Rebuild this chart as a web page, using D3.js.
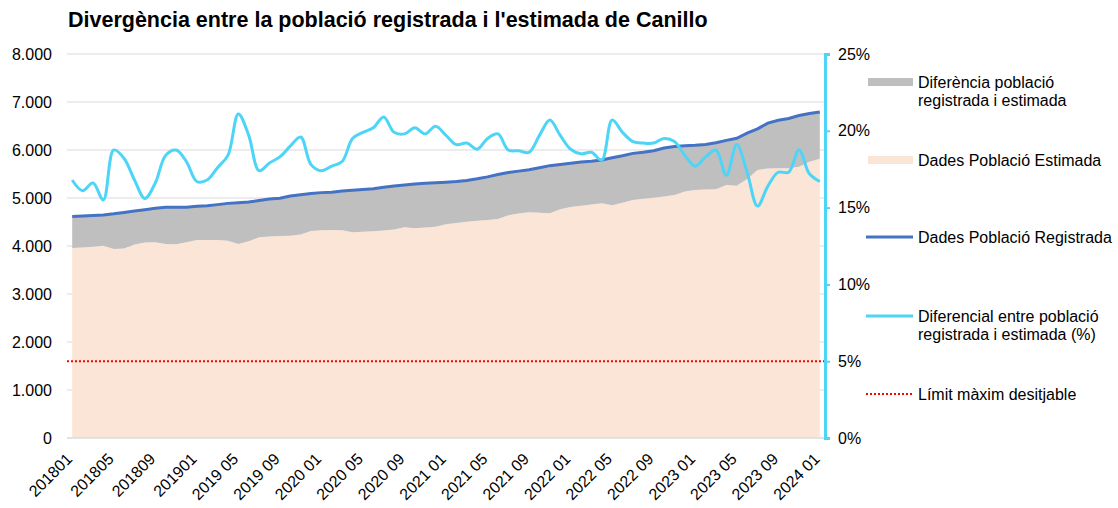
<!DOCTYPE html>
<meta charset="utf-8">
<style>
    body { margin: 0; background: #fff; }
    text { font-family: "Liberation Sans", Arial, sans-serif; fill: #000; }
    .title { font-size: 21.5px; font-weight: bold; }
    .tick text { font-size: 16px; }
    .legend text { font-size: 16px; }
</style>
<body>
<script src="https://d3js.org/d3.v7.min.js"></script>
<script>
// months 2018-01 .. 2024-01
var months = [];
for (var yr = 2018; yr <= 2024; yr++) {
    for (var m = 1; m <= 12; m++) {
        if (yr === 2024 && m > 1) break;
        months.push(yr + "" + (m < 10 ? "0" + m : m));
    }
}

// tick labels shown every 4 months
var tickLabels = ["201801", "201805", "201809", "201901", "2019 05", "2019 09", "2020 01",
    "2020 05", "2020 09", "2021 01", "2021 05", "2021 09", "2022 01", "2022 05", "2022 09",
    "2023 01", "2023 05", "2023 09", "2024 01"];

// registered population
var registrada = [4615, 4625, 4635, 4648, 4670, 4700, 4728, 4755, 4785, 4805, 4806, 4808,
    4830, 4840, 4862, 4888, 4900, 4915, 4950, 4980, 4995, 5040, 5070, 5095,
    5112, 5118, 5145, 5160, 5178, 5195, 5225, 5252, 5270, 5290, 5305, 5319,
    5330, 5345, 5365, 5400, 5440, 5490, 5530, 5560, 5590, 5630, 5674, 5700,
    5725, 5750, 5765, 5790, 5840, 5880, 5930, 5955, 5986, 6040, 6075, 6088,
    6098, 6115, 6150, 6200, 6245, 6350, 6440, 6560, 6620, 6655, 6720, 6760,
    6790];

// estimated population
var estimada = [3960, 3970, 3985, 4007, 3935, 3950, 4030, 4072, 4076, 4040, 4035, 4080,
    4125, 4125, 4125, 4110, 4042, 4100, 4180, 4200, 4208, 4215, 4240, 4310,
    4330, 4333, 4330, 4285, 4295, 4305, 4325, 4345, 4389, 4368, 4385, 4402,
    4455, 4480, 4505, 4525, 4540, 4560, 4640, 4675, 4702, 4695, 4681, 4765,
    4810, 4840, 4865, 4889, 4847, 4900, 4960, 4985, 5005, 5030, 5060, 5135,
    5168, 5175, 5181, 5271, 5257, 5396, 5583, 5615, 5618, 5618, 5650, 5757,
    5820];

// differential (%)
var diferencial = [16.8, 16.1, 16.6, 15.5, 18.75, 18.2, 16.8, 15.6, 16.6, 18.4, 18.75, 18.0,
    16.7, 16.8, 17.6, 18.4, 21.1, 19.7, 17.4, 17.9, 18.3, 19.0, 19.6, 17.8,
    17.4, 17.7, 18.0, 19.5, 19.9, 20.2, 20.9, 19.9, 19.8, 20.2, 19.8, 20.3,
    19.7, 19.1, 19.2, 18.8, 19.5, 19.8, 18.75, 18.7, 18.6, 19.7, 20.7, 19.7,
    18.8, 18.5, 18.6, 18.1, 20.7, 19.9, 19.3, 19.2, 19.2, 19.5, 19.3, 18.4,
    17.7, 18.3, 18.75, 17.1, 19.1, 17.3, 15.1, 16.4, 17.3, 17.3, 18.75, 17.2,
    16.7];

var limit = 5;

var leftTicks = [0, 1000, 2000, 3000, 4000, 5000, 6000, 7000, 8000];
var rightTicks = [0, 5, 10, 15, 20, 25];

var margin = {top: 54, left: 67},
    plotW = 758,
    plotH = 384;

var svg = d3.select("body").append("svg")
    .attr("width", 1118)
    .attr("height", 508);

svg.append("text")
    .attr("class", "title")
    .attr("x", 68)
    .attr("y", 27)
    .text("Divergència entre la població registrada i l'estimada de Canillo");

var g = svg.append("g")
    .attr("transform", "translate(" + margin.left + "," + margin.top + ")");

var x = d3.scaleBand().domain(months).range([0, plotW]);
var y = d3.scaleLinear().domain([0, 8000]).range([plotH, 0]);
var y2 = d3.scaleLinear().domain([0, 25]).range([plotH, 0]);
var cx = function(i) { return x(months[i]) + x.bandwidth() / 2; };

// gridlines
g.selectAll(".grid").data(leftTicks).enter().append("line")
    .attr("x1", 0).attr("x2", plotW)
    .attr("y1", function(d) { return y(d); })
    .attr("y2", function(d) { return y(d); })
    .attr("stroke", "#d9d9d9")
    .attr("stroke-width", 1);

// estimated area
var areaEst = d3.area()
    .x(function(d, i) { return cx(i); })
    .y0(y(0))
    .y1(function(d) { return y(d); });

g.append("path")
    .datum(estimada)
    .attr("fill", "#fbe5d6")
    .attr("d", areaEst);

// difference area
var areaDiff = d3.area()
    .x(function(d, i) { return cx(i); })
    .y0(function(d, i) { return y(estimada[i]); })
    .y1(function(d) { return y(d); });

g.append("path")
    .datum(registrada)
    .attr("fill", "#bfbfbf")
    .attr("d", areaDiff);

// bottom axis line
g.append("line")
    .attr("x1", 0).attr("x2", plotW)
    .attr("y1", plotH).attr("y2", plotH)
    .attr("stroke", "#d9d9d9");

// limit line
g.append("line")
    .attr("x1", 0).attr("x2", plotW)
    .attr("y1", y2(limit)).attr("y2", y2(limit))
    .attr("stroke", "#ff0000")
    .attr("stroke-width", 2)
    .attr("stroke-dasharray", "2,2");

// registered line
var lineReg = d3.line()
    .x(function(d, i) { return cx(i); })
    .y(function(d) { return y(d); });

g.append("path")
    .datum(registrada)
    .attr("fill", "none")
    .attr("stroke", "#4472c4")
    .attr("stroke-width", 3)
    .attr("d", lineReg);

// differential line
var linePct = d3.line()
    .x(function(d, i) { return cx(i); })
    .y(function(d) { return y2(d); })
    .curve(d3.curveCatmullRom.alpha(0.5));

g.append("path")
    .datum(diferencial)
    .attr("fill", "none")
    .attr("stroke", "#4dd5f7")
    .attr("stroke-width", 3)
    .attr("d", linePct);

// left axis
var yAxis = g.append("g")
    .call(d3.axisLeft(y).tickValues(leftTicks).tickSize(0).tickPadding(15)
        .tickFormat(function(d) { return d3.format(",")(d).replace(/,/g, "."); }));
yAxis.select(".domain").remove();

// right axis
var y2Axis = g.append("g")
    .attr("transform", "translate(" + plotW + ",0)")
    .call(d3.axisRight(y2).tickValues(rightTicks).tickSize(5).tickPadding(8)
        .tickFormat(function(d) { return d + "%"; }));
y2Axis.select(".domain").attr("stroke", "#4dd5f7").attr("stroke-width", 3);
y2Axis.selectAll(".tick line").attr("stroke", "#4dd5f7").attr("stroke-width", 2);

// bottom labels
var xAxis = g.append("g")
    .attr("transform", "translate(0," + plotH + ")");
xAxis.selectAll("text").data(tickLabels).enter().append("text")
    .attr("transform", function(d, k) {
        return "translate(" + (cx(k * 4) + 1) + ",22) rotate(-45)";
    })
    .attr("text-anchor", "end")
    .style("font-size", "16px")
    .text(function(d) { return d; });

// legend
var legendItems = [
    {type: "rect", color: "#bfbfbf", y: 82, lines: ["Diferència població", "registrada i estimada"]},
    {type: "rect", color: "#fbe5d6", y: 160, lines: ["Dades Població Estimada"]},
    {type: "line", color: "#4472c4", y: 237, lines: ["Dades Població Registrada"]},
    {type: "line", color: "#4dd5f7", y: 316, lines: ["Diferencial entre població", "registrada i estimada (%)"]},
    {type: "dot", color: "#ff0000", y: 394, lines: ["Límit màxim desitjable"]}
];

var legend = svg.append("g").attr("class", "legend");
legendItems.forEach(function(it) {
    if (it.type === "rect") {
        legend.append("rect")
            .attr("x", 868).attr("y", it.y - 4)
            .attr("width", 45).attr("height", 8)
            .attr("fill", it.color);
    } else {
        legend.append("line")
            .attr("x1", 866).attr("x2", 913)
            .attr("y1", it.y).attr("y2", it.y)
            .attr("stroke", it.color)
            .attr("stroke-width", it.type === "dot" ? 2 : 3)
            .attr("stroke-dasharray", it.type === "dot" ? "2,2" : null);
    }
    it.lines.forEach(function(l, k) {
        legend.append("text")
            .attr("x", 918)
            .attr("y", it.y + k * 18)
            .attr("dy", "0.35em")
            .text(l);
    });
});
</script>
</body>
